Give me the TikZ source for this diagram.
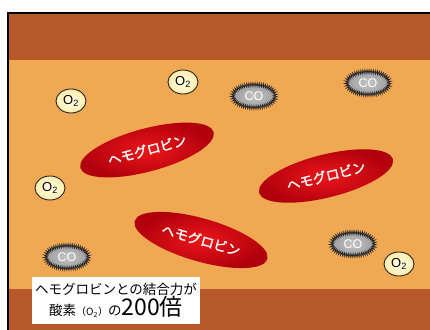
\documentclass[tikz,border=0pt]{standalone}
\usepackage{fontspec}
\setsansfont{Liberation Sans}
\newfontfamily\jpfont{Noto Sans CJK JP}
\newfontfamily\jpbold[FakeBold=1.6]{Noto Sans CJK JP}
\usetikzlibrary{shapes.geometric,decorations.pathmorphing}
\definecolor{rust}{RGB}{184,89,44}
\definecolor{sand}{RGB}{241,168,83}
\definecolor{hbred}{RGB}{236,22,26}
\definecolor{hbdark}{RGB}{175,0,12}
\definecolor{paleyellow}{RGB}{255,255,200}

\begin{document}
\begin{tikzpicture}[x=1pt,y=-1pt,
	oxy/.style={ellipse,draw=black!85,line width=0.9pt,inner color=white!60!paleyellow,outer color=paleyellow!85!orange,
		minimum width=30pt,minimum height=24pt,inner sep=0pt,font=\sffamily\fontsize{13}{13}\selectfont},
	gas/.style={ellipse,draw=gray!30!black,line width=0.7pt,inner color=gray!45,outer color=gray!80,
		decorate,decoration={zigzag,segment length=2pt,amplitude=1.8pt},
		minimum width=43pt,minimum height=23pt,inner sep=0pt,text=white,font=\sffamily\fontsize{12.5}{12.5}\selectfont},
	hb/.style={ellipse,inner color=hbred,outer color=hbdark,minimum width=138pt,minimum height=43pt,
		text=white,font=\jpbold\fontsize{13.5}{15}\selectfont}]
	\useasboundingbox (0,0) rectangle (430,329);
	\clip (0,0) rectangle (430,329);
	% vessel wall and blood
	\fill[white] (0,0) rectangle (430,329);
	\fill[rust] (7.5,13.5) rectangle (432,60);
	\fill[sand] (7.5,60) rectangle (432,289);
	\fill[rust] (7.5,289) rectangle (432,331);
	\draw[line width=2pt] (432,13.5) -- (7.5,13.5) -- (7.5,331);
	
	\coordinate (o_1) at (71,101);
	\coordinate (o_2) at (183,82);
	\coordinate (o_3) at (50,188);
	\coordinate (o_4) at (399,264);
	\coordinate (c_1) at (254,96);
	\coordinate (c_2) at (368,83);
	\coordinate (c_3) at (67,257);
	\coordinate (c_4) at (353,244);
	
	\node[hb,rotate=15] (Hb1) at (147,150) {ヘモグロビン};
	\node[hb,rotate=14] (Hb2) at (326,176) {ヘモグロビン};
	\node[hb,rotate=-16] (Hb3) at (201,240) {ヘモグロビン};
	
	\node[oxy] (O1) at (o_1) {O\textsubscript{2}};
	\node[oxy] (O2) at (o_2) {O\textsubscript{2}};
	\node[oxy] (O3) at (o_3) {O\textsubscript{2}};
	\node[oxy] (O4) at (o_4) {O\textsubscript{2}};
	\node[gas] (CO1) at (c_1) {CO};
	\node[gas] (CO2) at (c_2) {CO};
	\node[gas] (CO3) at (c_3) {CO};
	\node[gas] (CO4) at (c_4) {CO};
	
	\node[fill=white,minimum width=168pt,minimum height=47pt,align=center,inner sep=0pt,
		font=\jpfont\fontsize{13.5}{21}\selectfont] (Note) at (116,300.5)
		{ヘモグロビンとの結合力が\\酸素{\fontsize{10}{10}\selectfont（O\textsubscript{2}）}の{\fontsize{23}{23}\selectfont 200倍}};
\end{tikzpicture}
\end{document}
